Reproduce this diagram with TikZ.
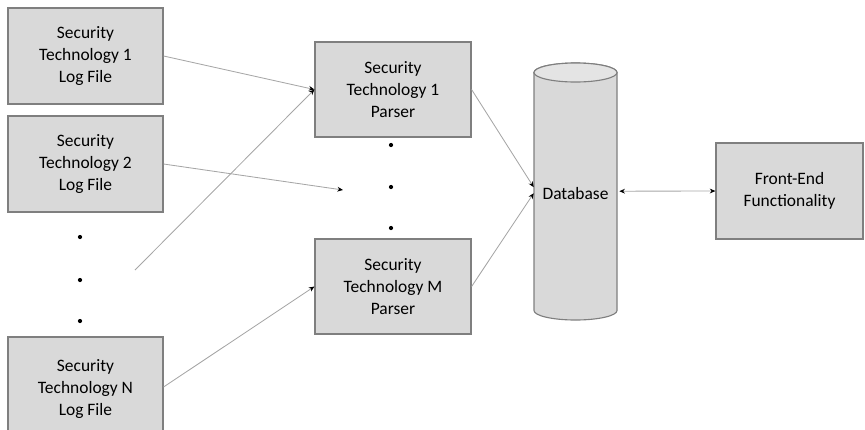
\documentclass[tikz,border=0pt]{standalone}
\usepackage{fontspec}
\setmainfont{Carlito}
\usetikzlibrary{arrows.meta}
\definecolor{boxfill}{HTML}{D9D9D9}
\definecolor{boxline}{HTML}{7F7F7F}
\definecolor{wire}{HTML}{A6A6A6}
\begin{document}
\begin{tikzpicture}[x=0.025cm, y=-0.025cm,
  box/.style={draw=boxline, line width=0.8pt, fill=boxfill, align=center,
    font=\fontsize{12.4}{15.6}\selectfont, inner sep=2pt},
  logbox/.style={box, minimum width=3.875cm, minimum height=2.4cm},
  parserbox/.style={box, minimum width=3.9cm, minimum height=2.375cm},
  dot/.style={circle, fill=black, inner sep=0pt, minimum size=3pt},
  wire/.style={draw=wire, line width=0.6pt, -{Stealth[length=4pt, width=3.4pt, black]}}]
  \useasboundingbox (0,0) rectangle (865,429);

  % Log files
  \node[logbox] (log1) at (85.5,56) {Security\\Technology 1\\Log File};
  \node[logbox] (log2) at (85.5,164) {Security\\Technology 2\\Log File};
  \node[logbox, minimum height=2.6cm] (logN) at (85.5,389) {Security\\Technology N\\Log File};
  \node[dot] (ldot1) at (80,237) {};
  \node[dot] (ldot2) at (80,280) {};
  \node[dot] (ldot3) at (80,321) {};

  % Parsers
  \node[parserbox] (pars1) at (393,89.5) {Security\\Technology 1\\Parser};
  \node[parserbox] (parsM) at (393,286.5) {Security\\Technology M\\Parser};
  \node[dot] (pdot1) at (391,145) {};
  \node[dot] (pdot2) at (391,187) {};
  \node[dot] (pdot3) at (391,228) {};

  % Database (cylinder)
  \draw[draw=boxline, line width=0.8pt, fill=boxfill] (534,72.5) -- (534,310.5)
    arc[start angle=180, end angle=360, x radius=1.0375cm, y radius=0.2375cm]
    -- (617,72.5)
    arc[start angle=0, end angle=180, x radius=1.0375cm, y radius=0.2375cm] -- cycle;
  \draw[draw=boxline, line width=0.8pt, fill=boxfill!70!white] (575.5,72.5)
    ellipse[x radius=1.0375cm, y radius=0.2375cm];
  \node[font=\fontsize{12.4}{15.6}\selectfont, minimum width=2.075cm, inner sep=0pt] (db) at (575.5,194) {Database};

  % Front end
  \node[box, minimum width=3.675cm, minimum height=2.4cm] (front) at (789.5,191) {Front-End\\Functionality};

  % Loose ends
  \coordinate (loose1) at (135,270);
  \coordinate (loose2) at (343,190);

  % Connectors
  \draw[wire] (log1.east) -- (pars1.west);
  \draw[wire] (loose1) -- (pars1.west);
  \draw[wire] (log2.east) -- (loose2);
  \draw[wire] ([yshift=0.05cm]logN.east) -- (parsM.west);
  \draw[wire] (pars1.east) -- ([yshift=0.17cm]db.west);
  \draw[wire] (parsM.east) -- ([yshift=0.02cm]db.west);
  \draw[wire, {Stealth[length=4pt, width=3.4pt, black]}-{Stealth[length=4pt, width=3.4pt, black]}]
    ([xshift=0.05cm, yshift=0.07cm]db.east) -- (front.west);
\end{tikzpicture}
\end{document}
